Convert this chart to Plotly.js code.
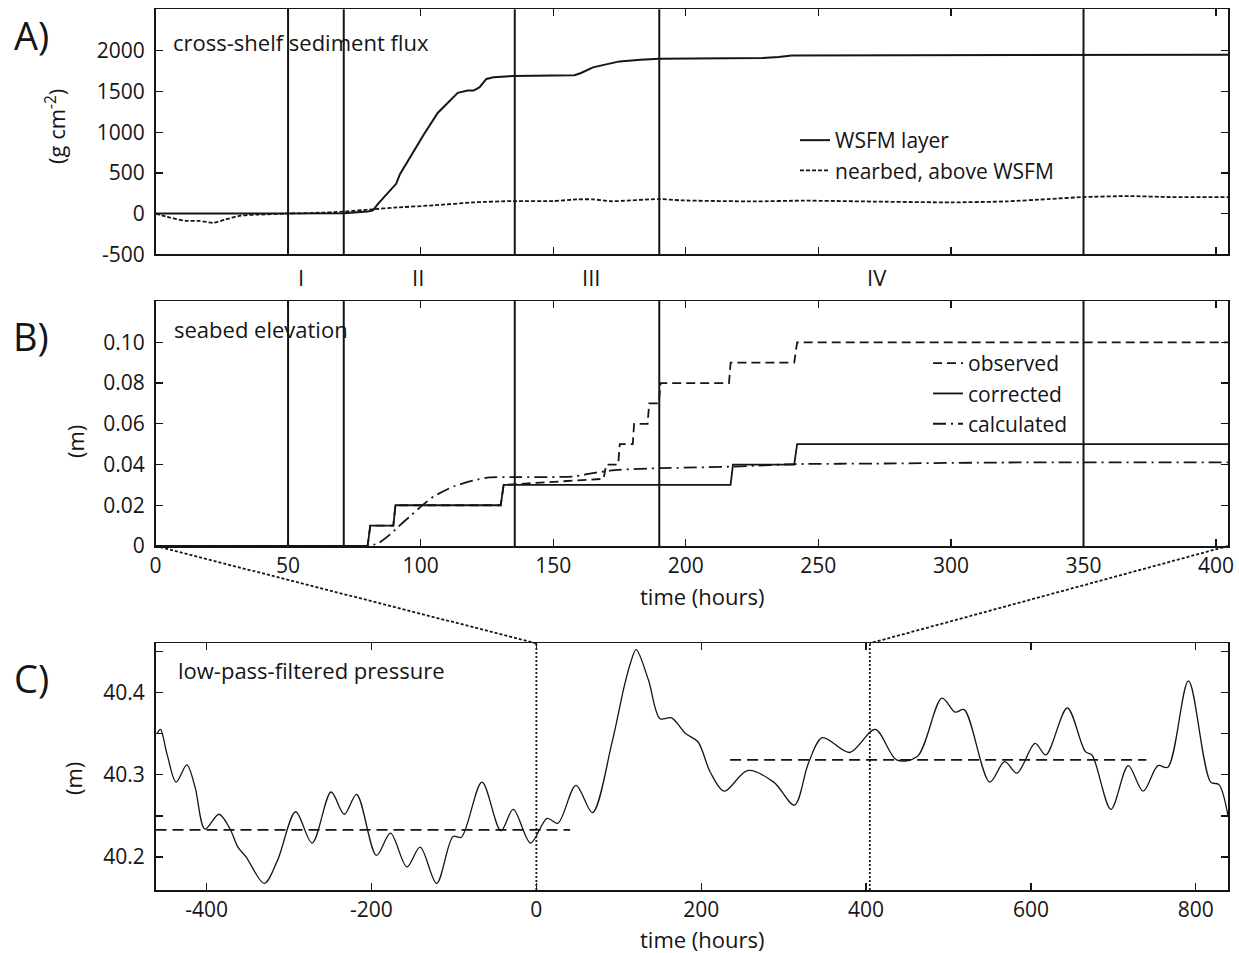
<!DOCTYPE html>
<html>
<head>
<meta charset="utf-8">
<script src="https://cdn.plot.ly/plotly-3.0.1.min.js"></script>
<style>html,body{margin:0;padding:0;background:#fff;}#chart{width:1239px;height:953px;}</style>
</head>
<body>
<div id="chart"></div>
<script>
// ---------- Panel A: cross-shelf sediment flux ----------
const wsfmHours = [0, 50, 71, 80, 82, 84, 87.75, 90.75, 92.25, 96.75, 101.25, 106.5, 111, 114, 117.75, 120, 122.25, 124.8, 127.5, 135, 158, 160.5, 165, 169, 175, 183, 190, 229, 235, 240, 260, 404.5];
const wsfmFlux  = [0, 0, 5, 25, 40, 122, 264, 366, 488, 732, 976, 1240, 1382, 1484, 1512, 1512, 1553, 1654, 1675, 1691, 1699, 1728, 1797, 1829, 1870, 1890, 1902, 1911, 1923, 1943, 1943, 1951];
const nearbedHours = [0, 4.5, 11.25, 16.5, 21.75, 26.25, 32.25, 39, 50, 60, 71, 81.75, 90, 105, 120, 135, 150, 159, 165, 172, 190, 198, 226, 244, 275, 300, 321, 337, 350, 367, 383, 404.5];
const nearbedFlux  = [0, -41, -89, -89, -114, -73, -24, -12, 0, 8, 24, 53, 73, 102, 138, 154, 154, 175, 175, 152, 179, 163, 150, 159, 146, 138, 150, 179, 203, 215, 203, 203];
const fluxTicks = [-500, 0, 500, 1000, 1500, 2000];
const fluxTickText = ['-500', '0', '500', '1000', '1500', '2000'];

// ---------- Panel B: seabed elevation ----------
const corrHours = [0, 80, 81, 89.7, 90.5, 130.2, 131.3, 216.9, 217.8, 240.9, 242, 404.5];
const corrected = [0, 0, 0.01, 0.01, 0.02, 0.02, 0.03, 0.03, 0.04, 0.04, 0.05, 0.05];
const obsHours = [0, 80, 81, 89.7, 90.5, 130.2, 131.3, 169, 170, 174.5, 175.1, 180, 180.5, 185.6, 186.2, 189.8, 190.5, 216.3, 216.9, 240.9, 242, 404.5];
const observed = [0, 0, 0.01, 0.01, 0.02, 0.02, 0.03, 0.033, 0.04, 0.04, 0.05, 0.05, 0.06, 0.06, 0.07, 0.07, 0.08, 0.08, 0.09, 0.09, 0.10, 0.10];
const calcHours = [0, 79.5, 84, 88.5, 91.5, 96, 100.5, 105, 112.5, 120, 126, 135, 157.5, 166.5, 174, 190.5, 218, 241, 275, 321, 404.5];
const calculated = [0, 0, 0.0013, 0.0057, 0.0094, 0.0146, 0.0198, 0.0244, 0.0293, 0.0322, 0.0337, 0.0338, 0.0341, 0.0361, 0.0374, 0.0382, 0.039, 0.0402, 0.0405, 0.041, 0.0411];
const hourTicks = [0, 50, 100, 150, 200, 250, 300, 350, 400];
const hourTickText = ['0', '50', '100', '150', '200', '250', '300', '350', '400'];
const elevTicks = [0, 0.02, 0.04, 0.06, 0.08, 0.10];
const elevTickText = ['0', '0.02', '0.04', '0.06', '0.08', '0.10'];

// event boundaries and period labels (hours)
const eventHours = [50, 71, 135.5, 190, 350];
const periodLabels = ['I', 'II', 'III', 'IV'];
const periodHours = [54.7, 99, 164.2, 272.2];

// ---------- Panel C: low-pass-filtered pressure ----------
const pressHours = [-460, -456, -448, -437, -424, -414, -402, -385, -372, -362, -352, -330, -314, -292, -272, -249, -233, -218, -194, -177, -157, -141, -121, -101, -91, -66, -43, -28, -7, 13, 26, 48, 68, 91.5, 106.5, 114, 121, 136, 150, 164, 181, 196, 211, 228, 256, 288, 313, 330, 347, 380, 411, 437, 462, 492, 508, 519, 550, 568, 583, 605, 618, 644, 666, 674, 697, 718, 736, 754, 766, 791, 818, 828, 839];
const pressure   = [40.350, 40.355, 40.325, 40.291, 40.312, 40.285, 40.234, 40.252, 40.235, 40.212, 40.200, 40.168, 40.196, 40.255, 40.217, 40.279, 40.252, 40.276, 40.202, 40.229, 40.188, 40.212, 40.168, 40.225, 40.224, 40.291, 40.232, 40.258, 40.217, 40.247, 40.241, 40.287, 40.254, 40.338, 40.407, 40.435, 40.452, 40.415, 40.368, 40.369, 40.350, 40.340, 40.303, 40.280, 40.305, 40.291, 40.263, 40.314, 40.345, 40.327, 40.355, 40.318, 40.322, 40.393, 40.376, 40.379, 40.291, 40.316, 40.302, 40.338, 40.324, 40.381, 40.328, 40.324, 40.258, 40.311, 40.280, 40.311, 40.309, 40.414, 40.291, 40.288, 40.250];
const meanBeforeHours = [-462, 41];
const meanBefore = [40.233, 40.233];
const meanAfterHours = [235, 740];
const meanAfter = [40.318, 40.318];
const zoomHours = [0, 404.5];
const pressHourTicks = [-400, -200, 0, 200, 400, 600, 800];
const pressHourText = ['-400', '-200', '0', '200', '400', '600', '800'];
const pressTicks = [40.2, 40.3, 40.4];
const pressTickText = ['40.2', '40.3', '40.4'];
const pressMinorTicks = [40.25, 40.35, 40.45];

// ---------- layout geometry ----------
const W = 1239, H = 953;
const px = v => v / W;
const py = v => 1 - v / H;
const FONT = '"Open Sans", "Noto Sans", sans-serif';
const INK = '#151515';
const xDom = [px(155.5), px(1228)];
const domA = [py(254.3), py(9.3)];
const domB = [py(546), py(301)];
const domC = [py(890), py(643.3)];
const rangeHours = [0, 404.5];
const rangePress = [-462, 839];

const axisCommon = {
  showline: true, linecolor: INK, linewidth: 1.5, mirror: 'ticks',
  ticks: 'inside', ticklen: 7, tickwidth: 1.3, tickcolor: INK,
  showgrid: false, zeroline: false, automargin: false, fixedrange: true,
  tickfont: {family: FONT, size: 21, color: INK}
};
const yCommon = Object.assign({}, axisCommon, {ticklabelstandoff: 5});

const legendStyle = (xPix, topPix) => ({x: px(xPix), y: py(topPix), xanchor: 'left', yanchor: 'top',
  bgcolor: 'rgba(0,0,0,0)', borderwidth: 0, font: {family: FONT, size: 21, color: INK}, itemwidth: 30, tracegroupgap: 0});

const traces = [
  {x: wsfmHours, y: wsfmFlux, xaxis: 'x', yaxis: 'y', type: 'scatter', mode: 'lines', name: 'WSFM layer',
   line: {color: INK, width: 2}, legend: 'legend'},
  {x: nearbedHours, y: nearbedFlux, xaxis: 'x', yaxis: 'y', type: 'scatter', mode: 'lines', name: 'nearbed, above WSFM',
   line: {color: INK, width: 1.8, dash: '4px,2px', shape: 'spline', smoothing: 0.6}, legend: 'legend'},
  {x: obsHours, y: observed, xaxis: 'x2', yaxis: 'y2', type: 'scatter', mode: 'lines', name: 'observed',
   line: {color: INK, width: 1.8, dash: '9px,5px'}, legend: 'legend2'},
  {x: corrHours, y: corrected, xaxis: 'x2', yaxis: 'y2', type: 'scatter', mode: 'lines', name: 'corrected',
   line: {color: INK, width: 1.8}, legend: 'legend2'},
  {x: calcHours, y: calculated, xaxis: 'x2', yaxis: 'y2', type: 'scatter', mode: 'lines', name: 'calculated',
   line: {color: INK, width: 1.8, dash: '13px,5px,2px,5px', shape: 'spline', smoothing: 0.5}, legend: 'legend2'},
  {x: pressHours, y: pressure, xaxis: 'x3', yaxis: 'y3', type: 'scatter', mode: 'lines', showlegend: false,
   line: {color: INK, width: 1.3, shape: 'spline', smoothing: 0.9}},
  {x: meanBeforeHours, y: meanBefore, xaxis: 'x3', yaxis: 'y3', type: 'scatter', mode: 'lines', showlegend: false,
   line: {color: INK, width: 1.8, dash: '11px,6px'}},
  {x: meanAfterHours, y: meanAfter, xaxis: 'x3', yaxis: 'y3', type: 'scatter', mode: 'lines', showlegend: false,
   line: {color: INK, width: 1.8, dash: '11px,6px'}}
];

const shapes = [];
eventHours.forEach(h => {
  shapes.push({type: 'line', xref: 'x', yref: 'y domain', x0: h, x1: h, y0: 0, y1: 1, line: {color: INK, width: 2}});
  shapes.push({type: 'line', xref: 'x2', yref: 'y2 domain', x0: h, x1: h, y0: 0, y1: 1, line: {color: INK, width: 2}});
});
zoomHours.forEach(h => {
  shapes.push({type: 'line', xref: 'x3', yref: 'y3 domain', x0: h, x1: h, y0: 0, y1: 1, line: {color: INK, width: 1.8, dash: '2px,2px'}});
});
// connectors from panel B's time range to the same window in panel C
const toPaper = (v, range, dom) => dom[0] + (v - range[0]) / (range[1] - range[0]) * (dom[1] - dom[0]);
zoomHours.forEach(h => {
  shapes.push({type: 'line', xref: 'paper', yref: 'paper',
    x0: toPaper(h, rangeHours, xDom), y0: domB[0],
    x1: toPaper(h, rangePress, xDom), y1: domC[1],
    line: {color: INK, width: 1.8, dash: '3px,2px'}});
});

const ann = (text, x, y, opts) => Object.assign({text, x: px(x), y: py(y), xref: 'paper', yref: 'paper',
  showarrow: false, xanchor: 'center', yanchor: 'middle', font: {family: FONT, size: 22, color: INK}}, opts || {});
const bigFont = {family: FONT, size: 38, color: INK};

const annotations = [
  ann('A)', 31, 35, {font: bigFont}),
  ann('B)', 31, 336, {font: bigFont}),
  ann('C)', 31, 678, {font: bigFont}),
  ann('cross-shelf sediment flux', 171, 42, {xanchor: 'left'}),
  ann('seabed elevation', 172, 329, {xanchor: 'left'}),
  ann('low-pass-filtered pressure', 176, 670, {xanchor: 'left'}),
  ann('(g cm<sup>-2</sup>)', 55, 127, {textangle: -90}),
  ann('(m)', 75, 442, {textangle: -90}),
  ann('(m)', 73, 779, {textangle: -90}),
  ann('time (hours)', 702, 596),
  ann('time (hours)', 702, 939)
];
periodLabels.forEach((t, i) => {
  annotations.push({text: t, x: periodHours[i], xref: 'x', y: py(277), yref: 'paper', showarrow: false,
    xanchor: 'center', yanchor: 'middle', font: {family: FONT, size: 22, color: INK}});
});

const layout = {
  width: W, height: H,
  margin: {l: 0, r: 0, t: 0, b: 0},
  paper_bgcolor: '#ffffff', plot_bgcolor: '#ffffff',
  font: {family: FONT, size: 21, color: INK},
  xaxis: Object.assign({}, axisCommon, {domain: xDom, anchor: 'y', range: rangeHours, tickvals: hourTicks, showticklabels: false}),
  yaxis: Object.assign({}, yCommon, {domain: domA, anchor: 'x', range: [-500, 2510], tickvals: fluxTicks, ticktext: fluxTickText}),
  xaxis2: Object.assign({}, axisCommon, {domain: xDom, anchor: 'y2', range: rangeHours, tickvals: hourTicks, ticktext: hourTickText}),
  yaxis2: Object.assign({}, yCommon, {domain: domB, anchor: 'x2', range: [0, 0.1203], tickvals: elevTicks, ticktext: elevTickText}),
  xaxis3: Object.assign({}, axisCommon, {domain: xDom, anchor: 'y3', range: rangePress, tickvals: pressHourTicks, ticktext: pressHourText}),
  yaxis3: Object.assign({}, yCommon, {domain: domC, anchor: 'x3', range: [40.160, 40.4596], tickvals: pressTicks, ticktext: pressTickText,
    minor: {tickvals: pressMinorTicks, ticks: 'inside', ticklen: 7, tickwidth: 1.3, tickcolor: INK, showgrid: false}}),
  showlegend: true,
  legend: legendStyle(795, 120),
  legend2: legendStyle(928, 343),
  shapes: shapes,
  annotations: annotations
};

Plotly.newPlot('chart', traces, layout, {staticPlot: true, displayModeBar: false});
</script>
</body>
</html>
